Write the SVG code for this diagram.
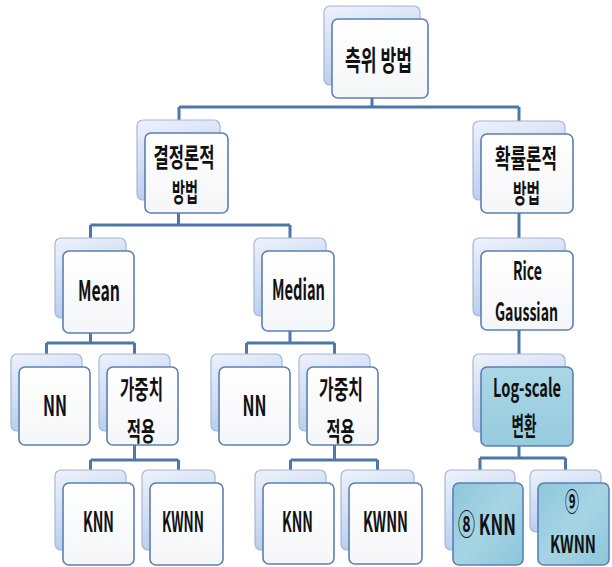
<svg xmlns="http://www.w3.org/2000/svg" width="612" height="567" viewBox="0 0 612 567">
<defs>
<linearGradient id="gBack" x1="0" y1="0" x2="0.3" y2="1">
<stop offset="0" stop-color="#eef2fb"/>
<stop offset="1" stop-color="#b8ccef"/>
</linearGradient>
<linearGradient id="gFront" x1="0" y1="0" x2="0" y2="1">
<stop offset="0" stop-color="#ffffff"/>
<stop offset="1" stop-color="#f5f6f8"/>
</linearGradient>
<linearGradient id="gTeal" x1="0" y1="0" x2="0" y2="1">
<stop offset="0" stop-color="#a9d7e6"/>
<stop offset="1" stop-color="#97cbde"/>
</linearGradient>
<linearGradient id="gTeal2" x1="0" y1="0" x2="1" y2="1">
<stop offset="0" stop-color="#8dc6da"/>
<stop offset="0.5" stop-color="#a6d5e5"/>
<stop offset="1" stop-color="#8cc5d9"/>
</linearGradient>
</defs>
<style>
.back{fill:url(#gBack);stroke:#a7b6d0;stroke-width:1.2}
.front{fill:url(#gFront);stroke:#5a80b4;stroke-width:1.6}
.teal{fill:url(#gTeal);stroke:#5a80b4;stroke-width:1.6}
.teal2{fill:url(#gTeal2);stroke:#5a80b4;stroke-width:1.6}
.conn{fill:none;stroke:#4b77ab;stroke-width:3}
text{font-family:"Noto Sans CJK KR","Noto Sans",sans-serif;font-weight:bold;fill:#111;text-anchor:middle}
.ko{font-size:28px}
.ko2{font-size:26px}
.en{font-size:28px}
.en2{font-size:24px}
.en3{font-size:25px}
</style>
<rect width="612" height="567" fill="#ffffff"/>
<g id="connectors">
<path class="conn" d="M372,96 V107 M179,107 H519 M179,107 V121 M519,107 V121"/>
<path class="conn" d="M178.5,211 V225 M90.5,225 H290 M90.5,225 V238 M290,225 V238"/>
<path class="conn" d="M519,211 V238"/>
<path class="conn" d="M90.5,331 V343 M46.5,343 H134.5 M46.5,343 V354 M134.5,343 V354"/>
<path class="conn" d="M290,329 V343 M246.5,343 H334.5 M246.5,343 V354 M334.5,343 V354"/>
<path class="conn" d="M519,328 V354"/>
<path class="conn" d="M134.5,443 V460 M90.5,460 H178.5 M90.5,460 V470 M178.5,460 V470"/>
<path class="conn" d="M334.5,443 V460 M290.5,460 H377.5 M290.5,460 V470 M377.5,460 V470"/>
<path class="conn" d="M519,444 V458 M480,458 H565.5 M480,458 V470 M565.5,458 V470"/>
</g>
<g id="n-root">
<rect class="back" x="324" y="6" width="96" height="79" rx="6"/>
<rect class="front" x="332" y="19" width="96" height="79" rx="6"/>
<text class="ko" x="378.5" y="71" textLength="67" lengthAdjust="spacingAndGlyphs">측위 방법</text>
</g>
<g id="n-det">
<rect class="back" x="137" y="120" width="83" height="80" rx="6"/>
<rect class="front" x="145" y="133" width="83" height="80" rx="6"/>
<text class="ko2" x="184" y="167" textLength="61" lengthAdjust="spacingAndGlyphs">결정론적</text>
<text class="ko2" x="185" y="202" textLength="26" lengthAdjust="spacingAndGlyphs">방법</text>
</g>
<g id="n-prob">
<rect class="back" x="473" y="121" width="92" height="79" rx="6"/>
<rect class="front" x="481" y="134" width="92" height="79" rx="6"/>
<text class="ko2" x="526" y="168" textLength="62" lengthAdjust="spacingAndGlyphs">확률론적</text>
<text class="ko2" x="526.5" y="203" textLength="27" lengthAdjust="spacingAndGlyphs">방법</text>
</g>
<g id="n-mean">
<rect class="back" x="55" y="238" width="71" height="80" rx="6"/>
<rect class="front" x="63" y="251" width="71" height="82" rx="6"/>
<text class="en" x="99" y="301" textLength="42" lengthAdjust="spacingAndGlyphs">Mean</text>
</g>
<g id="n-median">
<rect class="back" x="254" y="238" width="72" height="78" rx="6"/>
<rect class="front" x="262" y="251" width="72" height="80" rx="6"/>
<text class="en" x="298.5" y="300" textLength="53" lengthAdjust="spacingAndGlyphs">Median</text>
</g>
<g id="n-rice">
<rect class="back" x="473" y="238" width="92" height="78" rx="6"/>
<rect class="front" x="481" y="251" width="92" height="79" rx="6"/>
<text class="en3" x="527.5" y="280" textLength="29" lengthAdjust="spacingAndGlyphs">Rice</text>
<text class="en3" x="526.5" y="321" textLength="63" lengthAdjust="spacingAndGlyphs">Gaussian</text>
</g>
<g id="n-nn1">
<rect class="back" x="11" y="354" width="71" height="77" rx="6"/>
<rect class="front" x="19" y="367" width="71" height="78" rx="6"/>
<text class="en" x="55" y="416" textLength="24" lengthAdjust="spacingAndGlyphs">NN</text>
</g>
<g id="n-wt1">
<rect class="back" x="99" y="354" width="71" height="77" rx="6"/>
<rect class="front" x="107" y="367" width="71" height="78" rx="6"/>
<text class="ko2" x="141.5" y="399" textLength="43" lengthAdjust="spacingAndGlyphs">가중치</text>
<text class="ko2" x="141" y="441" textLength="28" lengthAdjust="spacingAndGlyphs">적용</text>
</g>
<g id="n-nn2">
<rect class="back" x="211" y="354" width="71" height="77" rx="6"/>
<rect class="front" x="219" y="367" width="71" height="78" rx="6"/>
<text class="en" x="254.5" y="416" textLength="24" lengthAdjust="spacingAndGlyphs">NN</text>
</g>
<g id="n-wt2">
<rect class="back" x="299" y="354" width="71" height="77" rx="6"/>
<rect class="front" x="307" y="367" width="71" height="78" rx="6"/>
<text class="ko2" x="341" y="399" textLength="44" lengthAdjust="spacingAndGlyphs">가중치</text>
<text class="ko2" x="340.5" y="441" textLength="28" lengthAdjust="spacingAndGlyphs">적용</text>
</g>
<g id="n-log">
<rect class="back" x="473" y="354" width="92" height="78" rx="6"/>
<rect class="teal" x="481" y="367" width="92" height="79" rx="6"/>
<text class="en3" x="527" y="397" textLength="68" lengthAdjust="spacingAndGlyphs">Log-scale</text>
<text class="ko2" x="524" y="436" textLength="25" lengthAdjust="spacingAndGlyphs">변환</text>
</g>
<g id="n-knn1">
<rect class="back" x="55" y="470" width="71" height="80" rx="6"/>
<rect class="front" x="63" y="483" width="71" height="82" rx="6"/>
<text class="en" x="98.5" y="532" textLength="31" lengthAdjust="spacingAndGlyphs">KNN</text>
</g>
<g id="n-kwnn1">
<rect class="back" x="142" y="470" width="73" height="80" rx="6"/>
<rect class="front" x="150" y="483" width="73" height="82" rx="6"/>
<text class="en" x="183" y="532" textLength="42" lengthAdjust="spacingAndGlyphs">KWNN</text>
</g>
<g id="n-knn2">
<rect class="back" x="255" y="470" width="71" height="80" rx="6"/>
<rect class="front" x="263" y="483" width="71" height="81" rx="6"/>
<text class="en" x="297.5" y="532" textLength="31" lengthAdjust="spacingAndGlyphs">KNN</text>
</g>
<g id="n-kwnn2">
<rect class="back" x="341" y="470" width="73" height="80" rx="6"/>
<rect class="front" x="349" y="483" width="73" height="81" rx="6"/>
<text class="en" x="385.5" y="532" textLength="45" lengthAdjust="spacingAndGlyphs">KWNN</text>
</g>
<g id="n-knn3">
<rect class="back" x="445" y="470" width="70" height="80" rx="6"/>
<rect class="teal2" x="453" y="483" width="70" height="82" rx="6"/>
<text class="en" x="487" y="535" textLength="58" lengthAdjust="spacingAndGlyphs">⑧ KNN</text>
</g>
<g id="n-kwnn3">
<rect class="back" x="530" y="470" width="71" height="62" rx="6"/>
<rect class="teal2" x="538" y="483" width="71" height="82" rx="6"/>
<text class="en3" x="572" y="511" textLength="14" lengthAdjust="spacingAndGlyphs">⑨</text>
<text class="en2" x="573" y="553" textLength="46" lengthAdjust="spacingAndGlyphs">KWNN</text>
</g>
</svg>
